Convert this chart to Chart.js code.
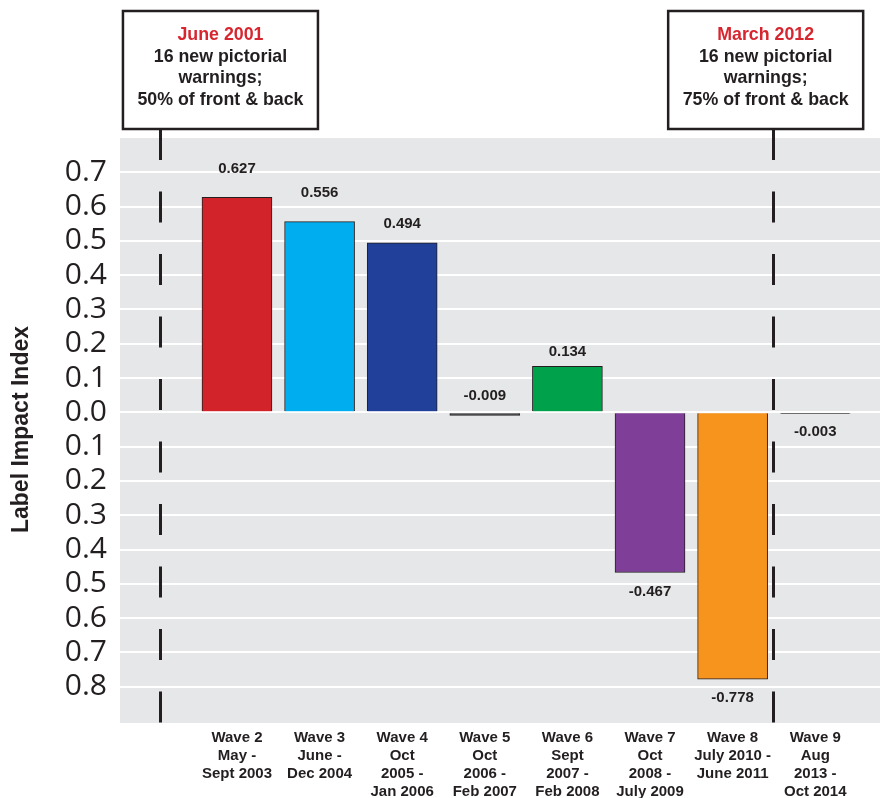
<!DOCTYPE html>
<html>
<head>
<meta charset="utf-8">
<script src="https://cdn.jsdelivr.net/npm/chart.js@4.4.0/dist/chart.umd.min.js"></script>
<style>
  html, body { margin: 0; padding: 0; background: #fff; }
  #wrap { width: 886px; height: 798px; position: relative; }
</style>
</head>
<body>
<div id="wrap"><canvas id="impactChart"></canvas></div>
<script>
// wave labels (multi-line) and their slot on the x axis
const waveLabels = [
    ['Wave 2', 'May -', 'Sept 2003'],
    ['Wave 3', 'June -', 'Dec 2004'],
    ['Wave 4', 'Oct', '2005 -', 'Jan 2006'],
    ['Wave 5', 'Oct', '2006 -', 'Feb 2007'],
    ['Wave 6', 'Sept', '2007 -', 'Feb 2008'],
    ['Wave 7', 'Oct', '2008 -', 'July 2009'],
    ['Wave 8', 'July 2010 -', 'June 2011'],
    ['Wave 9', 'Aug', '2013 -', 'Oct 2014']
];
const wavePos = [2, 3, 4, 5, 6, 7, 8, 9];
const impactValues = [0.627, 0.556, 0.494, -0.009, 0.134, -0.467, -0.778, -0.003];
const barColors = ['#d2232a', '#00aeef', '#21409a', '#58595b', '#00a14b', '#7f3f98', '#f7941d', '#231f20'];

// policy events (position on the wave axis)
const eventTitles = ['June 2001', 'March 2012'];
const eventText = [
    ['16 new pictorial', 'warnings;', '50% of front & back'],
    ['16 new pictorial', 'warnings;', '75% of front & back']
];
const eventAt = [1.07, 8.49];
const eventBoxAt = [1.8, 8.4];

const labelFont = 'bold 15px "Liberation Sans", Arial, sans-serif';

const backgroundPlugin = {
    id: 'plotBackground',
    beforeDraw(chart) {
        const { ctx, chartArea: a } = chart;
        ctx.save();
        ctx.fillStyle = '#e6e7e8';
        ctx.fillRect(a.left, a.top, a.right - a.left, a.bottom - a.top + 2);
        ctx.restore();
    }
};

const eventsPlugin = {
    id: 'events',
    afterDatasetsDraw(chart) {
        const { ctx, chartArea: a } = chart;
        const x = chart.scales.x;
        const boxTop = 11, boxBottom = a.top - 9, boxW = 195;
        ctx.save();
        // dashed lines
        ctx.strokeStyle = '#231f20';
        ctx.lineWidth = 3;
        ctx.setLineDash([31, 31.5]);
        eventAt.forEach(v => {
            const px = Math.round(x.getPixelForValue(v)) + 0.5;
            ctx.beginPath();
            ctx.moveTo(px, boxBottom);
            ctx.lineTo(px, a.bottom + 2);
            ctx.stroke();
        });
        ctx.setLineDash([]);
        // boxes
        eventBoxAt.forEach((v, i) => {
            const cx = x.getPixelForValue(v);
            ctx.fillStyle = '#fff';
            ctx.fillRect(cx - boxW / 2, boxTop, boxW, boxBottom - boxTop);
            ctx.lineWidth = 2.5;
            ctx.strokeStyle = '#231f20';
            ctx.strokeRect(cx - boxW / 2, boxTop, boxW, boxBottom - boxTop);
            ctx.font = 'bold 17.8px "Liberation Sans", Arial, sans-serif';
            ctx.textAlign = 'center';
            ctx.textBaseline = 'middle';
            ctx.fillStyle = '#d7262f';
            ctx.fillText(eventTitles[i], cx, boxTop + 24);
            ctx.fillStyle = '#231f20';
            eventText[i].forEach((t, j) => ctx.fillText(t, cx, boxTop + 46 + j * 21.5));
        });
        ctx.restore();
    }
};

const valueLabelPlugin = {
    id: 'valueLabels',
    afterDatasetsDraw(chart, args, opts) {
        const { ctx } = chart;
        const meta = chart.getDatasetMeta(0);
        ctx.save();
        ctx.font = labelFont;
        ctx.fillStyle = '#231f20';
        ctx.textAlign = 'center';
        ctx.textBaseline = 'middle';
        meta.data.forEach((bar, i) => {
            const top = Math.min(bar.y, bar.base);
            const bottom = Math.max(bar.y, bar.base);
            const y = opts.above[i] ? top - opts.offset[i] : bottom + opts.offset[i];
            ctx.fillText(impactValues[i].toFixed(3), bar.x, y);
        });
        ctx.restore();
    }
};

new Chart(document.getElementById('impactChart'), {
    type: 'bar',
    data: {
        datasets: [{
            data: impactValues.map((v, i) => ({ x: wavePos[i], y: v })),
            backgroundColor: barColors,
            borderColor: '#231f20',
            borderWidth: 1,
            barThickness: 70
        }]
    },
    options: {
        responsive: true,
        maintainAspectRatio: false,
        animation: false,
        layout: { padding: { top: 138, right: 6, bottom: 0, left: 0 } },
        plugins: {
            legend: { display: false },
            tooltip: { enabled: false },
            valueLabels: {
                above: [true, true, true, true, true, false, false, false],
                offset: [28, 29, 19, 17, 15, 19, 19, 18]
            }
        },
        scales: {
            x: {
                type: 'linear',
                offset: false,
                min: 0.584,
                max: 9.784,
                grid: { display: false, drawTicks: false },
                border: { display: false },
                afterBuildTicks(scale) {
                    scale.ticks = wavePos.map(v => ({ value: v }));
                },
                afterFit(scale) { scale.height = 77; },
                ticks: {
                    autoSkip: false,
                    maxRotation: 0,
                    padding: 8,
                    color: '#231f20',
                    font: { family: '"Liberation Sans", Arial, sans-serif', size: 15, weight: 'bold', lineHeight: 1.2 },
                    callback: v => waveLabels[wavePos.indexOf(v)] || ''
                }
            },
            y: {
                min: -0.9,
                max: 0.8,
                border: { display: false },
                grid: {
                    color: c => (c.tick && (c.tick.value > 0.75 || c.tick.value < -0.85)) ? 'rgba(0,0,0,0)' : '#ffffff',
                    lineWidth: 2,
                    drawTicks: false
                },
                afterFit(scale) { scale.width = 120; },
                title: {
                    display: true,
                    text: 'Label Impact Index',
                    color: '#231f20',
                    padding: { top: 8, bottom: 0 },
                    font: { family: '"Liberation Sans", Arial, sans-serif', size: 23, weight: 'bold' }
                },
                ticks: {
                    stepSize: 0.1,
                    autoSkip: false,
                    padding: 13,
                    color: '#231f20',
                    font: { family: '"Open Sans", sans-serif', size: 30 },
                    callback: v => (v > 0.75 || v < -0.85) ? '' : Math.abs(v).toFixed(1)
                }
            }
        }
    },
    plugins: [backgroundPlugin, eventsPlugin, valueLabelPlugin]
});
</script>
</body>
</html>
